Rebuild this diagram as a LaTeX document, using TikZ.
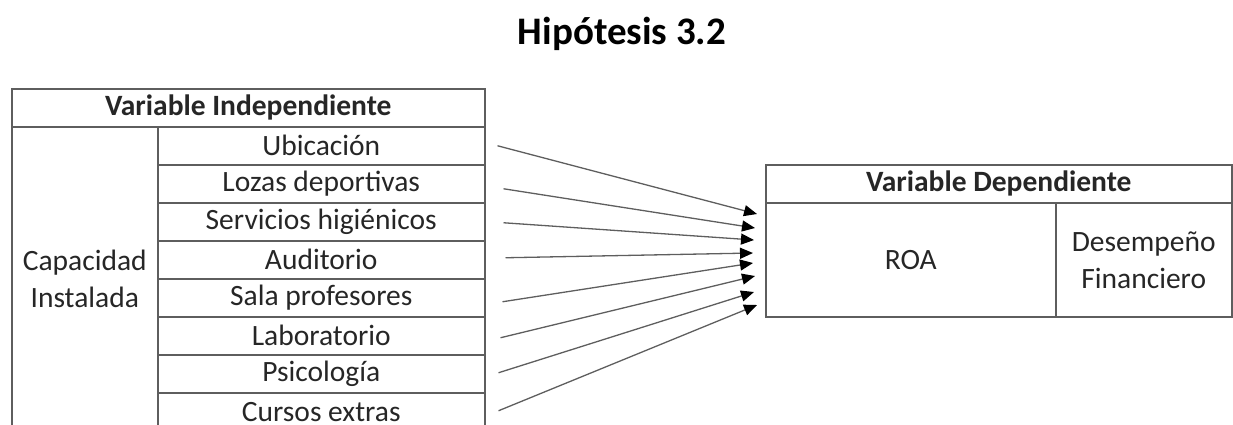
\documentclass[tikz,border=0pt]{standalone}
\usepackage{fontspec}
\setmainfont{Carlito}
\usetikzlibrary{arrows.meta,calc}
\definecolor{gridc}{HTML}{5E5E5E}
\definecolor{txtc}{HTML}{262626}
\begin{document}
\begin{tikzpicture}[x=1pt,y=-1pt,
  cell/.style={draw=gridc,line width=1.5pt,anchor=north west,inner sep=0pt,
    minimum height=38pt,text=txtc,font=\fontsize{29.5}{37}\selectfont,align=center},
  hdr/.style={cell,font=\fontsize{29.5}{37}\selectfont\bfseries},
  arr/.style={draw=gridc,line width=1.3pt,-{Triangle[length=13pt,width=11pt,color=black]}}]
\useasboundingbox (0,0) rectangle (1233,424);
\clip (0,0) rectangle (1233,424);
\node[font=\fontsize{39}{44}\selectfont\bfseries,text=black] (title) at (622,34) {Hipótesis 3.2};
% left table
\node[hdr,minimum width=473pt] (hI) at (11,88) {Variable Independiente};
\node[cell,minimum width=146pt,minimum height=304pt] (cap) at (11,126) {Capacidad\\Instalada};
\node[cell,minimum width=327pt] (r1) at (157,126) {Ubicación};
\node[cell,minimum width=327pt] (r2) at (157,164) {Lozas deportivas};
\node[cell,minimum width=327pt] (r3) at (157,202) {Servicios higiénicos};
\node[cell,minimum width=327pt] (r4) at (157,240) {Auditorio};
\node[cell,minimum width=327pt] (r5) at (157,278) {Sala profesores};
\node[cell,minimum width=327pt] (r6) at (157,316) {Laboratorio};
\node[cell,minimum width=327pt] (r7) at (157,354) {Psicología};
\node[cell,minimum width=327pt] (r8) at (157,392) {Cursos extras};
% right table
\node[hdr,minimum width=466pt] (hD) at (765,164) {Variable Dependiente};
\node[cell,minimum width=290pt,minimum height=114pt] (roa) at (765,202) {ROA};
\node[cell,minimum width=176pt,minimum height=114pt] (des) at (1055,202) {Desempeño\\Financiero};
% arrow end points
\coordinate (e1) at (757,214);
\coordinate (e2) at (755,228);
\coordinate (e3) at (754,240);
\coordinate (e4) at (753,253);
\coordinate (e5) at (753,263);
\coordinate (e6) at (755,276);
\coordinate (e7) at (754,292);
\coordinate (e8) at (757,305);
\draw[arr] ($(r1.east)+(12,0)$) -- (e1);
\draw[arr] ($(r2.east)+(18,5)$) -- (e2);
\draw[arr] ($(r3.east)+(18,1)$) -- (e3);
\draw[arr] ($(r4.east)+(20,-2)$) -- (e4);
\draw[arr] ($(r5.east)+(17,4)$) -- (e5);
\draw[arr] ($(r6.east)+(15,2)$) -- (e6);
\draw[arr] ($(r7.east)+(13,-1)$) -- (e7);
\draw[arr] ($(r8.east)+(13,-1)$) -- (e8);
\end{tikzpicture}
\end{document}
